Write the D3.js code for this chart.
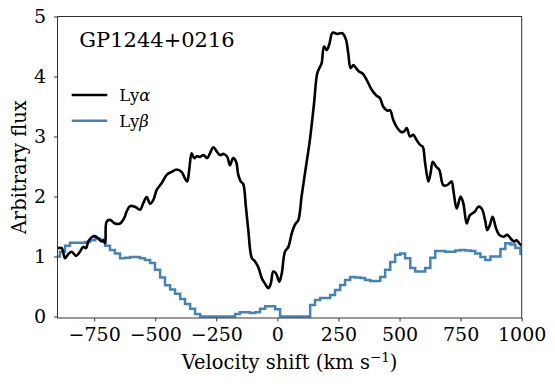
<!DOCTYPE html>
<html>
<head>
<meta charset="utf-8">
<script src="https://cdn.jsdelivr.net/npm/d3@7"></script>
<style>
  body { margin: 0; background: #fff; }
  text { font-family: "DejaVu Serif", serif; fill: #000; }
</style>
</head>
<body>
<div id="chart"></div>
<script>
// Ly-alpha profile (velocity km/s, flux)
const lyaVel = [-905, -901, -883, -869, -856, -842, -824, -808, -795, -783, -774, -760, -747, -733, -719, -713, -705,
  -699, -685, -665, -644, -627, -617, -603, -583, -562, -549, -535, -521, -508, -494, -474, -453, -433, -412,
  -392, -378, -369, -361, -351, -341, -330, -317, -303, -287, -276, -262, -248, -235, -219, -205, -194, -181,
  -169, -160, -150, -140, -129, -119, -105, -92, -78, -64, -51, -37, -27, -17, -6, 8, 18, 31, 45, 59, 72, 86,
  99, 117, 133, 150, 163, 174, 181, 191, 202, 212, 226, 245, 258, 267, 281, 290, 300, 311, 322, 335, 349, 366,
  386, 406, 420, 433, 450, 461, 474, 488, 505, 518, 529, 543, 556, 570, 584, 595, 604, 618, 627, 636, 649, 663,
  679, 695, 713, 720, 734, 750, 761, 775, 788, 809, 822, 836, 850, 859, 870, 881, 895, 908, 925, 941, 955, 968,
  979, 990, 1000];
const lyaFlux = [1.14, 1.14, 1.14, 0.97, 1.04, 1.08, 1.01, 1.08, 1.16, 1.14, 1.25, 1.32, 1.34, 1.30, 1.25, 1.27, 1.22,
  1.58, 1.61, 1.55, 1.55, 1.64, 1.75, 1.84, 1.83, 1.78, 1.89, 1.99, 1.88, 1.94, 2.11, 2.22, 2.36, 2.41, 2.45,
  2.41, 2.30, 2.25, 2.44, 2.72, 2.64, 2.67, 2.66, 2.69, 2.64, 2.72, 2.82, 2.75, 2.69, 2.71, 2.66, 2.52, 2.64,
  2.58, 2.36, 2.25, 2.21, 1.83, 1.44, 0.98, 0.92, 0.82, 0.64, 0.55, 0.47, 0.55, 0.75, 0.72, 0.58, 0.72, 1.08, 1.16, 1.39, 1.53, 1.61,
  2.00, 2.50, 2.94, 3.55, 4.05, 4.16, 4.22, 4.50, 4.44, 4.53, 4.73, 4.71, 4.72, 4.72, 4.61, 4.39, 4.14, 4.19, 4.14, 4.08, 4.05, 3.94,
  3.78, 3.68, 3.64, 3.50, 3.43, 3.44, 3.28, 3.16, 3.08, 3.08, 3.14, 3.00, 3.03, 2.94, 2.86, 2.83, 2.58, 2.25, 2.39, 2.58, 2.50, 2.44,
  2.19, 2.19, 2.25, 2.11, 1.80, 2.00, 1.89, 1.55, 1.69, 1.75, 1.83, 1.80, 1.61, 1.44, 1.53, 1.66, 1.47, 1.36, 1.33, 1.36, 1.30, 1.25,
  1.27, 1.22, 1.18];

// Ly-beta binned profile: left bin edges (km/s) and flux per bin
const lybEdge = [-910, -890, -869, -849, -828, -808, -787, -767, -746, -726, -705, -685, -665, -644, -624, -603, -583,
  -562, -542, -521, -501, -480, -460, -439, -419, -398, -378, -357, -337, -316, -296, -276, -255, -235, -214,
  -194, -173, -153, -132, -112, -91, -71, -50, -30, -9, 11, 32, 52, 73, 93, 113, 134, 154, 175, 195, 216, 236,
  257, 277, 298, 318, 339, 359, 380, 400, 421, 441, 462, 482, 503, 523, 544, 564, 585, 605, 626, 646, 667, 687,
  708, 728, 749, 769, 790, 810, 831, 851, 872, 892, 913, 933, 954, 974, 995, 1015];
const lybFlux = [1.00, 1.08, 1.18, 1.23, 1.23, 1.23, 1.24, 1.27, 1.30, 1.28, 1.18, 1.11, 1.05, 0.97, 0.98, 0.99, 0.99,
  0.97, 0.94, 0.89, 0.78, 0.65, 0.52, 0.45, 0.38, 0.29, 0.21, 0.13, 0.04, 0, 0, 0, 0, 0, 0,
  0, 0.04, 0.07, 0.07, 0.06, 0.07, 0.13, 0.17, 0.17, 0.12, 0, 0, 0, 0, 0, 0, 0.19, 0.275, 0.31, 0.31, 0.36, 0.44,
  0.525, 0.61, 0.66, 0.65, 0.64, 0.61, 0.59, 0.59, 0.66, 0.78, 0.91, 1.03, 1.05, 0.97, 0.81, 0.75, 0.75, 0.81, 0.98, 1.09, 1.09, 1.08,
  1.08, 1.10, 1.11, 1.10, 1.09, 1.05, 0.99, 0.94, 1.00, 1.00, 1.125, 1.22, 1.20, 1.14, 1.04];

const xTicks = [-750, -500, -250, 0, 250, 500, 750, 1000];
const yTicks = [0, 1, 2, 3, 4, 5];
const title = "GP1244+0216";

const W = 555, H = 384;
const margin = {left: 57.5, right: 33.3, top: 16.5, bottom: 66};

const svg = d3.select("#chart").append("svg")
    .attr("width", W)
    .attr("height", H);

const x = d3.scaleLinear().domain([-900, 1000]).range([margin.left, W - margin.right]);
const y = d3.scaleLinear().domain([-0.025, 5]).range([H - margin.bottom, margin.top]);

svg.append("clipPath").attr("id", "clip")
  .append("rect")
    .attr("x", margin.left).attr("y", margin.top)
    .attr("width", W - margin.left - margin.right)
    .attr("height", H - margin.top - margin.bottom);

const plot = svg.append("g").attr("clip-path", "url(#clip)");

// Ly-beta as steps
const lybPts = [];
lybFlux.forEach((f, i) => {
  lybPts.push([lybEdge[i], f]);
  lybPts.push([lybEdge[i + 1], f]);
});
plot.append("path")
    .datum(lybPts)
    .attr("fill", "none")
    .attr("stroke", "#4682b4")
    .attr("stroke-width", 2.5)
    .attr("d", d3.line().x(d => x(d[0])).y(d => y(d[1])));

// Ly-alpha
plot.append("path")
    .datum(lyaVel.map((v, i) => [v, lyaFlux[i]]))
    .attr("fill", "none")
    .attr("stroke", "#000")
    .attr("stroke-width", 2.6)
    .attr("stroke-linejoin", "round")
    .attr("d", d3.line().x(d => x(d[0])).y(d => y(d[1])).curve(d3.curveCatmullRom));

// axes
const fmt = d => d < 0 ? "\u2212" + Math.abs(d) : String(d);
const xAxis = svg.append("g")
    .attr("transform", `translate(0,${H - margin.bottom})`)
    .call(d3.axisBottom(x).tickValues(xTicks).tickFormat(fmt).tickSize(3.5).tickPadding(6));
const yAxis = svg.append("g")
    .attr("transform", `translate(${margin.left},0)`)
    .call(d3.axisLeft(y).tickValues(yTicks).tickFormat(fmt).tickSize(3.5).tickPadding(8));
[xAxis, yAxis].forEach(a => {
  a.select(".domain").remove();
  a.selectAll("line").attr("stroke", "#333");
  a.selectAll("text").style("font-family", "DejaVu Serif").style("font-size", "19px").attr("fill", "#000");
});

// frame
svg.append("rect")
    .attr("x", margin.left).attr("y", margin.top)
    .attr("width", W - margin.left - margin.right)
    .attr("height", H - margin.top - margin.bottom)
    .attr("fill", "none")
    .attr("stroke", "#333")
    .attr("stroke-width", 1);

// labels
const xl = svg.append("text")
    .attr("x", (margin.left + W - margin.right) / 2)
    .attr("y", 369)
    .attr("text-anchor", "middle")
    .style("font-size", "19.5px");
xl.append("tspan").text("Velocity shift (km s");
xl.append("tspan").attr("dy", -7).style("font-size", "13.5px").text("\u22121");
xl.append("tspan").attr("dy", 7).text(")");

svg.append("text")
    .attr("transform", `translate(26,${(margin.top + H - margin.bottom) / 2}) rotate(-90)`)
    .attr("text-anchor", "middle")
    .style("font-size", "19.5px")
    .text("Arbitrary flux");

svg.append("text")
    .attr("x", 79.3)
    .attr("y", 47)
    .style("font-size", "21px")
    .text(title);

// legend
const legend = [{name: "\u03b1", color: "#000"}, {name: "\u03b2", color: "#4682b4"}];
legend.forEach((d, i) => {
  const ly = 95 + i * 25.7;
  svg.append("line")
      .attr("x1", 71.7).attr("x2", 107.3)
      .attr("y1", ly).attr("y2", ly)
      .attr("stroke", d.color)
      .attr("stroke-width", 2.6);
  const t = svg.append("text")
      .attr("x", 119.3)
      .attr("y", ly + 6)
      .style("font-size", "16.5px");
  t.append("tspan").text("Ly");
  t.append("tspan").style("font-style", "italic").text(d.name);
});
</script>
</body>
</html>
